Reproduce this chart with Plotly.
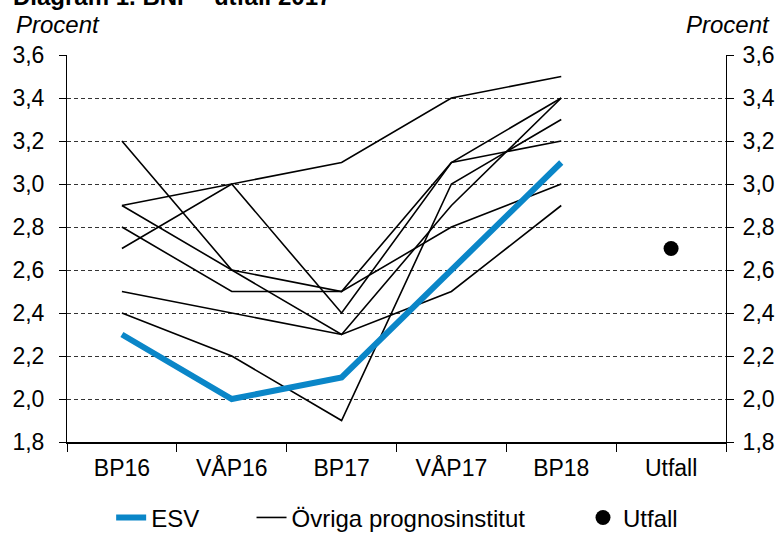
import plotly.graph_objects as go

kategorier = ["BP16", "VÅP16", "BP17", "VÅP17", "BP18", "Utfall"]
prognoser = kategorier[:5]

esv = [2.3, 2.0, 2.1, 2.6, 3.1]
utfall = [2.7]

# övriga prognosinstitut, en lista per institut
inst_1 = [3.2, 2.6, 2.5, 3.1, 3.2]
inst_2 = [2.9, 3.0, 3.1, 3.4, 3.5]
inst_3 = [2.9, 2.6, 2.3, 2.9, 3.4]
inst_4 = [2.8, 2.5, 2.5, 2.8, 3.0]
inst_5 = [2.7, 3.0, 2.4, 3.1, 3.4]
inst_6 = [2.5, 2.4, 2.3, 2.5, 2.9]
inst_7 = [2.4, 2.2, 1.9, 3.0, 3.3]
ovriga = [inst_1, inst_2, inst_3, inst_4, inst_5, inst_6, inst_7]

yticks = [1.8, 2.0, 2.2, 2.4, 2.6, 2.8, 3.0, 3.2, 3.4, 3.6]
ytext = [f"{v:.1f}".replace(".", ",") for v in yticks]

blue = "#0a86c8"
font = "Liberation Sans, Arial, sans-serif"

fig = go.Figure()

for i, serie in enumerate(ovriga):
    fig.add_trace(go.Scatter(x=prognoser, y=serie, mode="lines",
                             line=dict(color="black", width=1.6),
                             name="Övriga prognosinstitut", legendgroup="ovr",
                             legend="legend2", showlegend=(i == 0), hoverinfo="skip"))

fig.add_trace(go.Scatter(x=prognoser, y=esv, mode="lines", name="ESV",
                         line=dict(color=blue, width=6), legend="legend"))
fig.add_trace(go.Scatter(x=["Utfall"], y=utfall, mode="markers", name="Utfall",
                         marker=dict(color="black", size=15), legend="legend3"))
# tom trace för högra axeln
fig.add_trace(go.Scatter(x=[], y=[], yaxis="y2", showlegend=False, hoverinfo="skip"))

yaxis_common = dict(range=[1.8, 3.6], tickvals=yticks, ticktext=ytext,
                    showline=True, linecolor="black", linewidth=1,
                    ticks="outside", ticklen=7, tickcolor="black", automargin=False,
                    zeroline=False, tickfont=dict(size=23, color="black"))

leg = dict(orientation="h", y=-0.196, yanchor="middle", font=dict(size=24),
           bgcolor="rgba(0,0,0,0)")

fig.update_layout(
    width=782, height=537,
    margin=dict(l=67, r=56, t=55, b=95, autoexpand=False),
    paper_bgcolor="white", plot_bgcolor="white",
    font=dict(family=font, size=23, color="black"),
    xaxis=dict(type="category", categoryorder="array", categoryarray=kategorier,
               range=[-0.5, 5.5], showgrid=False, showline=True, linecolor="black",
               linewidth=2, ticks="outside", ticklen=8, tickcolor="black",
               tickson="boundaries", tickfont=dict(size=23, color="black"),
               ticklabelstandoff=4, automargin=False),
    yaxis=dict(**yaxis_common, showgrid=True, gridcolor="#333333", gridwidth=1,
               griddash="4px,3px", ticklabelstandoff=10),
    yaxis2=dict(**yaxis_common, overlaying="y", side="right", showgrid=False,
                ticklabelstandoff=4),
    legend=dict(**leg, x=0.067, xanchor="left"),
    legend2=dict(**leg, x=0.28, xanchor="left"),
    legend3=dict(**leg, x=0.783, xanchor="left"),
    showlegend=True,
)

fig.add_annotation(text="<b>Diagram 1. BNP - utfall 2017</b>", xref="paper", yref="paper",
                   x=-0.085, xanchor="left", y=1.111, yanchor="bottom",
                   showarrow=False, font=dict(size=24))
fig.add_annotation(text="<i>Procent</i>", xref="paper", yref="paper",
                   x=-0.08, xanchor="left", y=1.08, yanchor="middle",
                   showarrow=False, font=dict(size=24))
fig.add_annotation(text="<i>Procent</i>", xref="paper", yref="paper",
                   x=1.07, xanchor="right", y=1.08, yanchor="middle",
                   showarrow=False, font=dict(size=24))

# ta bort sidans standardmarginal så att figuren ligger i hörnet
fig.write_html("out.html", config={"displayModeBar": False},
               post_script="document.body.style.margin = '0';")
